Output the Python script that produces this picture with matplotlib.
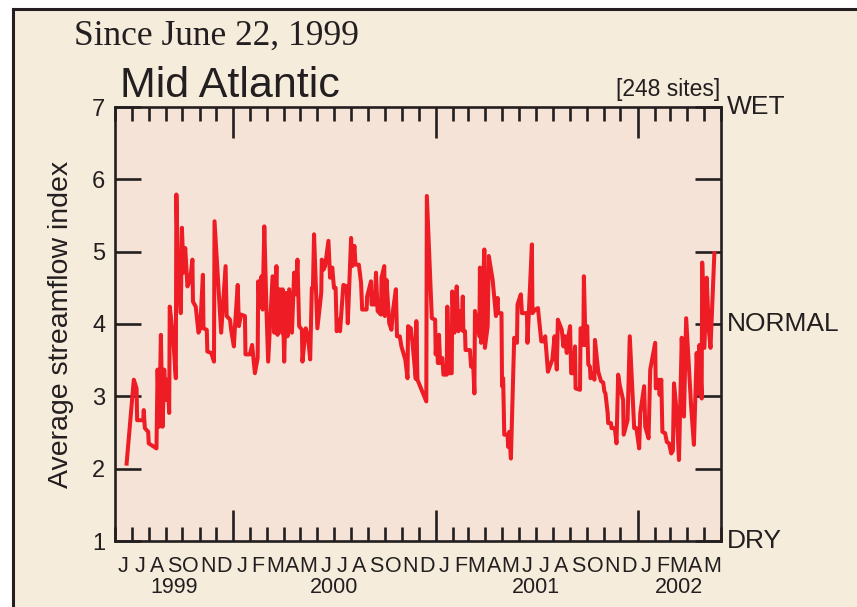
import numpy as np
import matplotlib
matplotlib.use("Agg")
import matplotlib.pyplot as plt
import matplotlib.dates as mdates
from matplotlib.lines import Line2D
from matplotlib.patches import Rectangle

# dias desde 1999-06-01 e indice medio de vazao
dias = [21, 34, 39, 40, 51, 52, 54, 60, 61, 75, 77, 80, 83, 86, 89, 92, 95, 98, 99, 105,
        110, 111, 114, 119, 121, 124, 127, 131, 136, 140, 141, 146, 151, 154, 159, 160, 166, 167, 174, 179,
        180, 192, 200, 202, 208, 210, 215, 217, 222, 224, 228, 235, 236, 244, 248, 253, 258, 259, 262, 265,
        267, 270, 274, 277, 285, 288, 292, 294, 298, 302, 303, 306, 309, 312, 315, 320, 324, 327, 330, 333,
        338, 339, 345, 349, 353, 356, 358, 360, 366, 373, 374, 377, 380, 386, 389, 393, 396, 399, 401, 404,
        407, 413, 419, 421, 427, 429, 433, 435, 441, 445, 447, 455, 456, 463, 464, 470, 472, 475, 481, 482,
        487, 488, 491, 496, 500, 503, 508, 510, 515, 518, 525, 529, 530, 535, 538, 544, 545, 547, 563, 564,
        573, 579, 580, 582, 584, 586, 588, 592, 594, 600, 601, 604, 609, 610, 614, 618, 621, 623, 627, 629,
        630, 633, 634, 642, 644, 648, 650, 651, 659, 660, 662, 668, 669, 674, 676, 683, 686, 689, 692, 693,
        699, 700, 702, 704, 710, 711, 713, 716, 722, 727, 728, 734, 736, 745, 746, 754, 755, 760, 765, 767,
        771, 777, 778, 783, 791, 795, 799, 801, 808, 811, 814, 817, 820, 823, 825, 829, 832, 833, 841, 842,
        845, 847, 848, 851, 854, 856, 859, 860, 865, 867, 868, 874, 879, 883, 885, 887, 891, 892, 897, 898,
        904, 907, 910, 913, 919, 920, 927, 931, 939, 943, 948, 950, 957, 959, 965, 968, 977, 978, 983, 985,
        988, 990, 995, 998, 1002, 1006, 1009, 1011, 1016, 1020, 1025, 1029, 1033, 1038, 1042, 1047, 1052, 1055, 1057, 1061,
        1062, 1066, 1070, 1074, 1077, 1084]

indice = [2.07, 3.23, 3.11, 2.67, 2.67, 2.81, 2.56, 2.51, 2.35, 2.28, 3.37, 2.58, 3.85, 2.58, 3.37, 2.95, 3.23, 2.77, 4.24, 3.83,
          3.25, 5.79, 4.71, 4.15, 5.33, 4.71, 5.05, 4.52, 4.61, 4.89, 4.31, 4.24, 3.88, 3.94, 4.68, 3.94, 3.92, 3.62, 3.60, 3.48,
          5.42, 3.88, 4.80, 4.11, 4.06, 3.92, 3.69, 3.97, 4.54, 3.97, 4.13, 4.11, 3.58, 3.58, 3.71, 3.32, 3.53, 4.59, 4.24, 4.66,
          4.20, 5.35, 4.18, 3.48, 4.66, 3.88, 4.80, 3.85, 4.48, 3.88, 4.48, 3.48, 4.43, 3.83, 4.48, 3.88, 4.71, 4.41, 4.89, 3.97,
          3.92, 3.48, 3.94, 3.83, 3.51, 4.50, 4.50, 5.24, 3.94, 4.43, 4.89, 4.75, 4.80, 5.15, 4.64, 4.78, 4.50, 4.50, 3.90, 4.06,
          3.90, 4.54, 4.52, 4.01, 5.19, 4.80, 5.08, 4.82, 4.82, 4.57, 4.20, 4.20, 4.38, 4.59, 4.27, 4.27, 4.71, 4.18, 4.13, 4.64,
          4.80, 4.11, 4.61, 4.01, 3.92, 4.20, 4.48, 3.83, 3.83, 3.69, 3.51, 3.25, 3.97, 3.94, 3.74, 3.24, 4.04, 3.23, 2.93, 5.77,
          4.08, 4.06, 3.58, 3.78, 3.46, 3.85, 3.46, 3.53, 3.30, 3.30, 4.24, 3.32, 3.32, 4.45, 3.88, 4.52, 3.90, 4.18, 3.92, 4.38,
          3.90, 3.90, 3.64, 3.64, 3.41, 3.41, 3.04, 4.18, 3.83, 4.78, 3.74, 5.03, 3.67, 3.97, 4.94, 4.61, 4.36, 4.11, 4.36, 4.15,
          4.15, 3.14, 3.25, 2.47, 2.47, 2.30, 2.51, 2.14, 3.81, 3.74, 4.27, 4.41, 4.15, 4.15, 3.74, 5.10, 4.15, 4.20, 4.22, 4.06,
          3.76, 3.76, 3.83, 3.34, 3.51, 3.83, 3.37, 4.06, 3.92, 3.69, 3.83, 3.60, 3.83, 3.97, 3.32, 3.32, 3.69, 3.11, 3.09, 3.94,
          3.94, 3.71, 4.66, 3.71, 3.97, 3.44, 3.41, 3.25, 3.32, 3.23, 3.78, 3.34, 3.21, 3.19, 3.07, 3.04, 2.77, 2.63, 2.63, 2.56,
          2.56, 2.35, 3.30, 3.15, 2.95, 2.47, 2.67, 3.83, 2.56, 2.56, 2.28, 2.77, 3.14, 2.58, 2.42, 3.37, 3.74, 3.11, 3.23, 3.02,
          3.23, 2.51, 2.49, 2.37, 2.35, 2.21, 2.25, 3.18, 2.77, 2.12, 3.81, 2.72, 4.08, 3.39, 2.86, 2.33, 3.60, 3.04, 3.71, 2.97,
          4.85, 3.67, 4.64, 3.92, 3.67, 4.98]

letras_meses = "JFMAMJJASOND"
anos = [1999, 2000, 2001, 2002]
niveis = [(7, "WET"), (4, "NORMAL"), (1, "DRY")]

inicio = np.datetime64("1999-06-01")
fim = np.datetime64("2002-06-01")
datas = inicio + np.array(dias, dtype="timedelta64[D]")

preto = "#231F20"
creme = "#F6ECDB"
rosa = "#F5E3D7"
vermelho = "#EE1C25"

plt.rcParams["font.family"] = ["Liberation Sans", "DejaVu Sans"]

fig = plt.figure(figsize=(8.57, 6.07), dpi=100, facecolor="white")
W, H = 857.0, 607.0

# moldura creme com borda em cima e na esquerda
fig.patches.append(Rectangle((13 / W, 0), 1, 1 - 9 / H, transform=fig.transFigure,
                             facecolor=creme, edgecolor="none", zorder=-2))
fig.lines.append(Line2D([13 / W, 1], [1 - 9 / H, 1 - 9 / H], transform=fig.transFigure,
                        color=preto, lw=2.2, zorder=-1))
fig.lines.append(Line2D([13 / W, 13 / W], [0, 1 - 9 / H], transform=fig.transFigure,
                        color=preto, lw=2.2, zorder=-1))

ax = fig.add_axes([115 / W, 1 - 541 / H, 606 / W, 434 / H], zorder=1)
ax.set_facecolor(rosa)
ax.plot(datas, indice, color=vermelho, lw=2.9, solid_joinstyle="round", zorder=3)

ax.set_xlim(inicio, fim)
ax.set_ylim(1, 7)

for s in ax.spines.values():
    s.set_color(preto)
    s.set_linewidth(1.9)

# eixo y
ax.set_yticks(range(1, 8))
ax.tick_params(axis="y", which="major", direction="in", length=19, width=1.9, color=preto,
               left=True, right=True, labelright=False, labelsize=17, pad=7, labelcolor=preto)
ax.set_ylabel("Average streamflow index", fontsize=20.5, color=preto, labelpad=13)

# eixo x: janeiro longo, meses curtos
ax.xaxis.set_major_locator(mdates.MonthLocator(bymonth=1))
ax.xaxis.set_minor_locator(mdates.MonthLocator())
ax.tick_params(axis="x", which="major", direction="in", length=22, width=1.9, color=preto,
               top=True, bottom=True, labelbottom=False)
ax.tick_params(axis="x", which="minor", direction="in", length=10, width=1.9, color=preto,
               top=True, bottom=True, labelbottom=False)

tx = ax.get_xaxis_transform()
meses = np.arange(inicio.astype("datetime64[M]"), fim.astype("datetime64[M]"))
for m in meses:
    d0 = m.astype("datetime64[D]")
    d1 = (m + 1).astype("datetime64[D]")
    meio = d0 + (d1 - d0) // 2
    letra = letras_meses[int(str(m)[5:7]) - 1]
    ax.text(meio, -0.058, letra, transform=tx, ha="center", va="center",
            fontsize=15.5, color=preto, clip_on=False)

for a in anos:
    a0 = max(np.datetime64(f"{a}-01-01"), inicio)
    a1 = min(np.datetime64(f"{a + 1}-01-01"), fim)
    ax.text(a0 + (a1 - a0) // 2, -0.107, str(a), transform=tx, ha="center", va="center",
            fontsize=15.5, color=preto, clip_on=False)

ty = ax.get_yaxis_transform()
for v, nome in niveis:
    ax.text(1.01, v, nome, transform=ty, ha="left", va="center",
            fontsize=19, color=preto, clip_on=False)

fig.text(74 / W, 1 - 45 / H, "Since June 22, 1999", fontsize=25.5, color=preto,
         family=["Liberation Serif", "DejaVu Serif"], ha="left", va="baseline")
fig.text(120 / W, 1 - 97 / H, "Mid Atlantic", fontsize=31, color=preto,
         ha="left", va="baseline")
fig.text(720 / W, 1 - 96 / H, "[248 sites]", fontsize=16.5, color=preto,
         ha="right", va="baseline")

fig.savefig("out.png", dpi=100, facecolor=fig.get_facecolor())
